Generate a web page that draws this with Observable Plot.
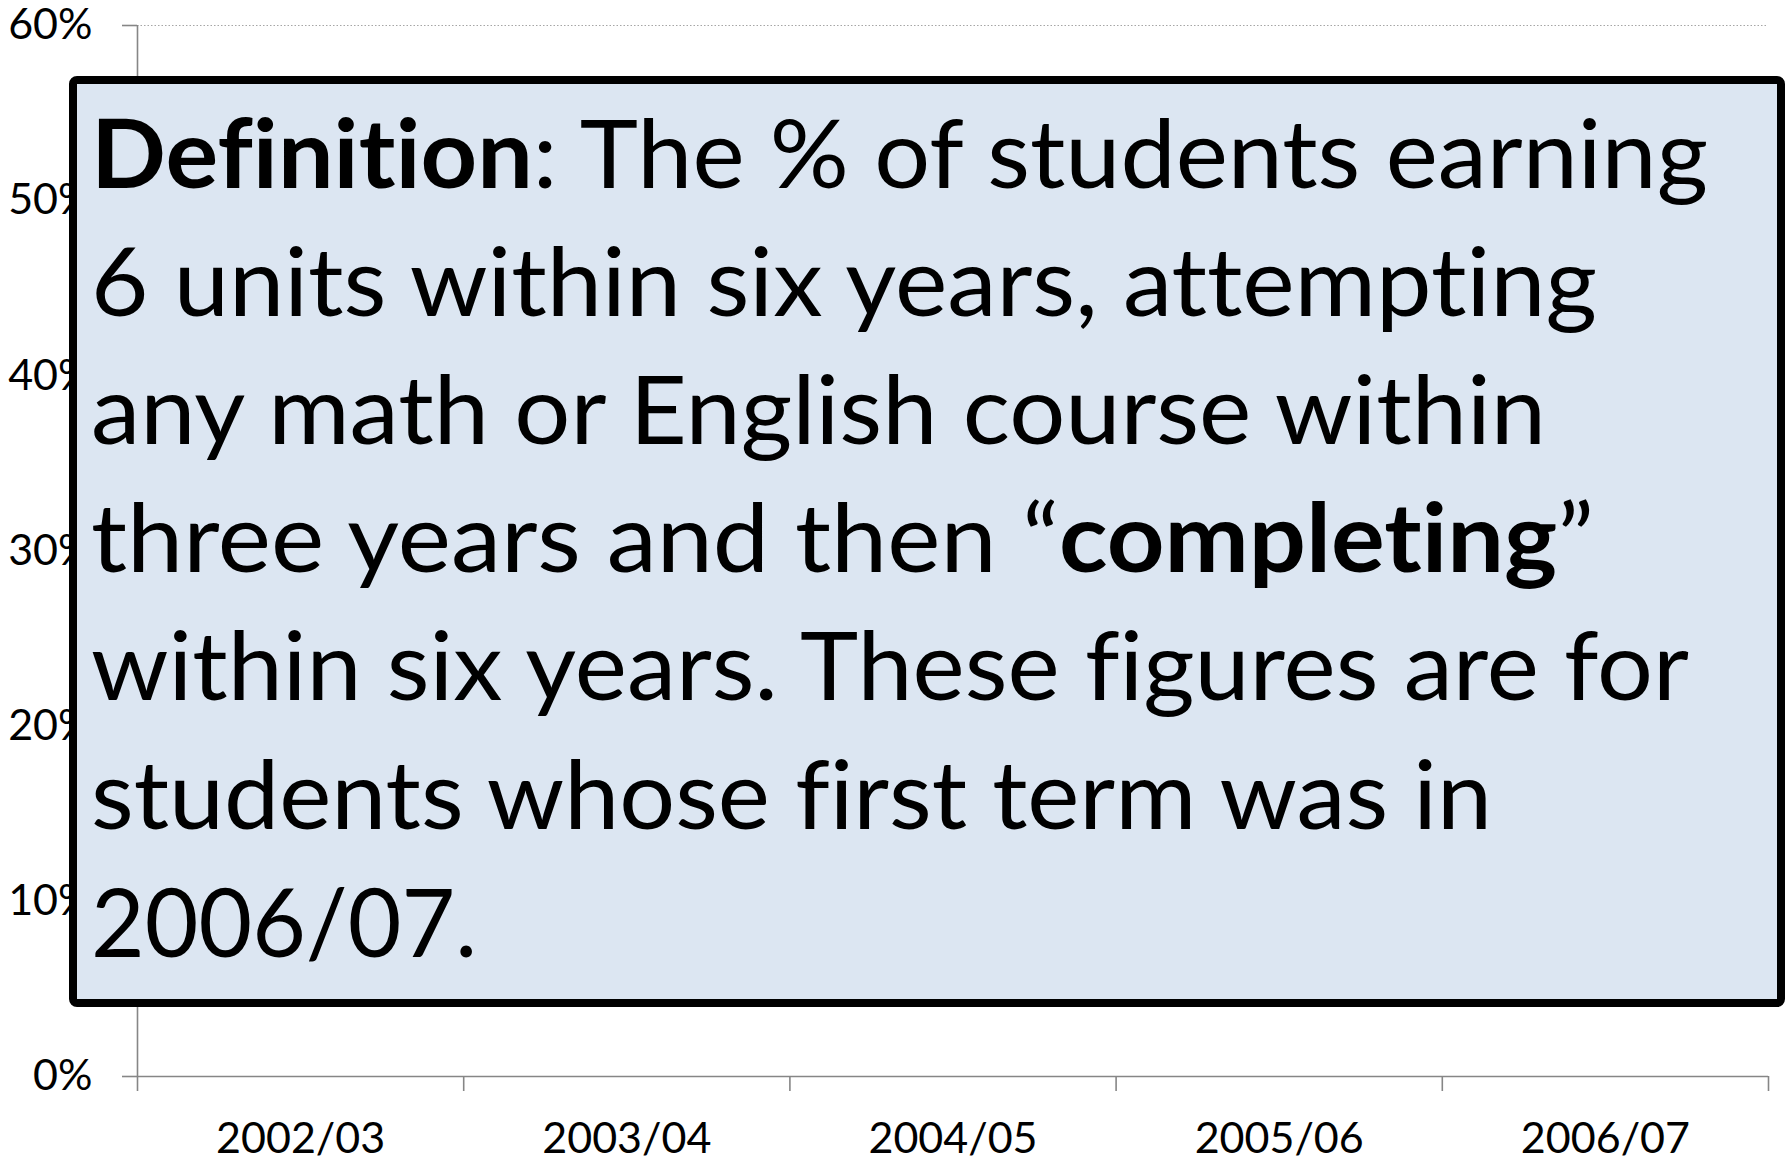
<!DOCTYPE html>
<html>
<head>
<meta charset="utf-8">
<script src="https://cdn.jsdelivr.net/npm/d3@7"></script>
<script src="https://cdn.jsdelivr.net/npm/@observablehq/plot@0.6"></script>
<style>
  html, body { margin: 0; padding: 0; background: #ffffff; }
  #chart { position: relative; width: 1789px; height: 1159px; }
  #chart svg text { font-variant-ligatures: none; }
</style>
</head>
<body>
<div id="chart"></div>
<script>
// ---- data ----
const categories = ["2002/03", "2003/04", "2004/05", "2005/06", "2006/07"];
const yTicks = [0, 0.1, 0.2, 0.3, 0.4, 0.5, 0.6];
const definitionLines = [
  [{t: "Definition", b: true}, {t: ": The % of students earning"}],
  [{t: "6 units within six years, attempting"}],
  [{t: "any math or English course within"}],
  [{t: "three years and then \u201C"}, {t: "completing", b: true}, {t: "\u201D"}],
  [{t: "within six years. These figures are for"}],
  [{t: "students whose first term was in"}],
  [{t: "2006/07."}]
];

// ---- layout ----
const W = 1789, H = 1159;
const textLeft = 91;
const lineWidths = [1617, 1506, 1455, 1503, 1598, 1401, 386];
const boundaries = d3.range(categories.length + 1);
const centers = categories.map((c, i) => i + 0.5);
const axisGray = "#868686";

const plot = Plot.plot({
  width: W,
  height: H,
  marginLeft: 137,
  marginRight: 21,
  marginTop: 25,
  marginBottom: 83,
  style: {fontFamily: "Lato, 'Noto Sans', sans-serif", background: "#ffffff", overflow: "visible"},
  x: {type: "linear", domain: [0, categories.length]},
  y: {domain: [0, 0.6]},
  marks: [
    Plot.gridY(yTicks.filter(d => d > 0), {stroke: "#a6a6a6", strokeOpacity: 1, strokeWidth: 1.2, strokeDasharray: "1.5,2"}),
    Plot.ruleX([0], {y1: 0, y2: 0.6, stroke: axisGray, strokeWidth: 1.6}),
    Plot.ruleY([0], {stroke: axisGray, strokeWidth: 1.6}),
    Plot.axisY({ticks: yTicks, tickFormat: d3.format(".0%"), tickSize: 15, tickPadding: 30,
      fontSize: 43, stroke: axisGray, strokeWidth: 1.6, fill: "#000000", label: null}),
    Plot.axisX({ticks: boundaries, tickFormat: () => "", tickSize: 15, stroke: axisGray, strokeWidth: 1.6, label: null}),
    Plot.axisX({ticks: centers, tickFormat: d => categories[Math.round(d - 0.5)], tickSize: 0, tickPadding: 46,
      fontSize: 43, fill: "#000000", label: null})
  ]
});

document.getElementById("chart").appendChild(plot);

// ---- definition box overlay ----
const svg = d3.select(plot);
const g = svg.append("g").attr("class", "definition-box").attr("text-anchor", "start");
g.append("rect")
  .attr("x", 73).attr("y", 80)
  .attr("width", 1708).attr("height", 923)
  .attr("rx", 4).attr("ry", 4)
  .attr("fill", "#dce6f2")
  .attr("stroke", "#000000")
  .attr("stroke-width", 8);

const baselines = [188, 316, 444, 572, 700, 829, 957];
definitionLines.forEach((segs, i) => {
  const t = g.append("text")
    .attr("x", textLeft)
    .attr("y", baselines[i])
    .attr("text-anchor", "start")
    .attr("font-family", "Lato, 'Noto Sans', sans-serif")
    .attr("font-size", 95)
    .attr("fill", "#000000")
    .attr("textLength", lineWidths[i])
    .attr("lengthAdjust", "spacingAndGlyphs");
  segs.forEach(s => {
    t.append("tspan").attr("font-weight", s.b ? 700 : 400).text(s.t);
  });
});
</script>
</body>
</html>
